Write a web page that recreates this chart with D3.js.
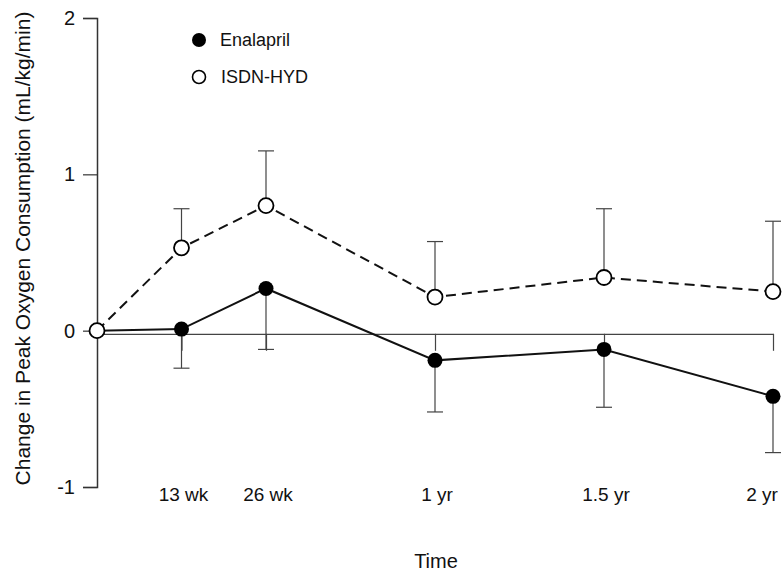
<!DOCTYPE html>
<html>
<head>
<meta charset="utf-8">
<script src="https://cdn.jsdelivr.net/npm/d3@7"></script>
<style>
  body { margin: 0; background: #fff; }
  text { font-family: "Liberation Sans", Arial, sans-serif; fill: #111; }
</style>
</head>
<body>
<script>
// data
const weeks = [0, 13, 26, 52, 78, 104];
const tickWeeks = [13, 26, 52, 78, 104];
const tickLabels = ["13 wk", "26 wk", "1 yr", "1.5 yr", "2 yr"];
const yTicks = [2, 1, 0, -1];

const enalapril = [0, 0.01, 0.27, -0.19, -0.12, -0.42];
const enalaprilLow = [null, -0.24, -0.12, -0.52, -0.49, -0.78];
const isdn = [0, 0.53, 0.80, 0.215, 0.34, 0.25];
const isdnHigh = [null, 0.78, 1.15, 0.57, 0.78, 0.70];

const w = 782;
const h = 571;

const xScale = d3.scaleLinear().domain([0, 104]).range([97, 773]);
const yScale = d3.scaleLinear().domain([-1, 2]).range([487, 18]);

const svg = d3.select("body")
  .append("svg")
  .attr("width", w)
  .attr("height", h);

// y axis
const yAxis = d3.axisLeft(yScale)
  .tickValues(yTicks)
  .tickFormat((d) => String(d))
  .tickSize(14)
  .tickPadding(8);

const gy = svg.append("g")
  .attr("transform", `translate(${xScale(0)}, 0)`)
  .call(yAxis);
gy.select(".domain").attr("stroke", "#333").attr("stroke-width", 1.5);
gy.selectAll(".tick line").attr("stroke", "#333").attr("stroke-width", 1.2);
gy.selectAll(".tick text").style("font-size", "20px").attr("fill", "#111");

// zero line with ticks pointing down
const zeroY = yScale(-0.02);
const xAxis = d3.axisBottom(xScale)
  .tickValues(tickWeeks)
  .tickFormat("")
  .tickSize(17)
  .tickSizeOuter(0);
const gx = svg.append("g")
  .attr("transform", `translate(0, ${zeroY})`)
  .call(xAxis);
gx.select(".domain").attr("stroke", "#444").attr("stroke-width", 1.2);
gx.selectAll(".tick line").attr("stroke", "#444").attr("stroke-width", 1.2);

// time labels
svg.selectAll(".tlabel")
  .data(tickWeeks)
  .enter()
  .append("text")
  .attr("class", "tlabel")
  .attr("x", (d, i) => xScale(d) + (i === tickWeeks.length - 1 ? -11 : 2))
  .attr("y", 501)
  .attr("text-anchor", "middle")
  .style("font-size", "19px")
  .text((d, i) => tickLabels[i]);

svg.append("text")
  .attr("x", xScale(52) + 1)
  .attr("y", 568)
  .attr("text-anchor", "middle")
  .style("font-size", "20px")
  .text("Time");

svg.append("text")
  .attr("transform", `translate(30, ${yScale(0.5) - 4}) rotate(-90)`)
  .attr("text-anchor", "middle")
  .style("font-size", "21px")
  .text("Change in Peak Oxygen Consumption (mL/kg/min)");

// error bars
function errorBars(vals, ends, cls) {
  const idx = weeks.map((d, i) => i).filter((i) => ends[i] !== null);
  const g = svg.append("g").attr("class", cls);
  g.selectAll("line.v")
    .data(idx)
    .enter()
    .append("line")
    .attr("class", "v")
    .attr("x1", (i) => xScale(weeks[i]))
    .attr("x2", (i) => xScale(weeks[i]))
    .attr("y1", (i) => yScale(vals[i]))
    .attr("y2", (i) => yScale(ends[i]))
    .attr("stroke", "#444")
    .attr("stroke-width", 1.2);
  g.selectAll("line.c")
    .data(idx)
    .enter()
    .append("line")
    .attr("class", "c")
    .attr("x1", (i) => xScale(weeks[i]) - 8)
    .attr("x2", (i) => xScale(weeks[i]) + 8)
    .attr("y1", (i) => yScale(ends[i]))
    .attr("y2", (i) => yScale(ends[i]))
    .attr("stroke", "#444")
    .attr("stroke-width", 1.2);
}
errorBars(enalapril, enalaprilLow, "err-e");
errorBars(isdn, isdnHigh, "err-i");

// lines
const line = d3.line()
  .x((d, i) => xScale(weeks[i]))
  .y((d) => yScale(d));

svg.append("path")
  .datum(enalapril)
  .attr("d", line)
  .attr("fill", "none")
  .attr("stroke", "#111")
  .attr("stroke-width", 2);

svg.append("path")
  .datum(isdn)
  .attr("d", line)
  .attr("fill", "none")
  .attr("stroke", "#111")
  .attr("stroke-width", 2)
  .attr("stroke-dasharray", "10,6");

// markers
svg.selectAll(".dot-e")
  .data(enalapril)
  .enter()
  .append("circle")
  .attr("class", "dot-e")
  .attr("cx", (d, i) => xScale(weeks[i]))
  .attr("cy", (d) => yScale(d))
  .attr("r", 7.5)
  .attr("fill", "#000");

svg.selectAll(".dot-i")
  .data(isdn)
  .enter()
  .append("circle")
  .attr("class", "dot-i")
  .attr("cx", (d, i) => xScale(weeks[i]))
  .attr("cy", (d) => yScale(d))
  .attr("r", 7.5)
  .attr("fill", "#fff")
  .attr("stroke", "#000")
  .attr("stroke-width", 1.8);

// legend
const legend = svg.append("g");
legend.append("circle").attr("cx", 199).attr("cy", 40).attr("r", 7).attr("fill", "#000");
legend.append("text").attr("x", 220).attr("y", 46).style("font-size", "18px").text("Enalapril");
legend.append("circle").attr("cx", 199).attr("cy", 77).attr("r", 6.5)
  .attr("fill", "#fff").attr("stroke", "#000").attr("stroke-width", 1.6);
legend.append("text").attr("x", 221).attr("y", 83).style("font-size", "18px").text("ISDN-HYD");
</script>
</body>
</html>
